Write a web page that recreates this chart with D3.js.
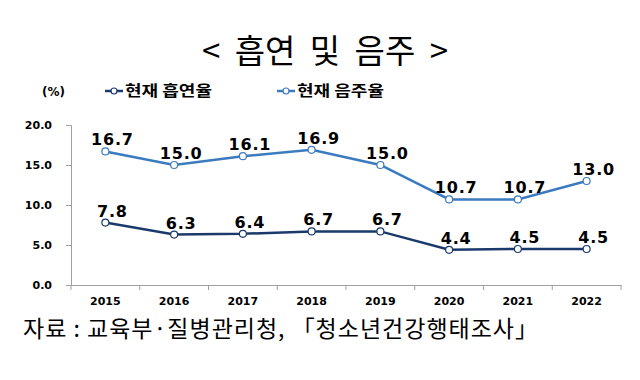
<!DOCTYPE html>
<html><head><meta charset="utf-8">
<script src="https://cdn.jsdelivr.net/npm/d3@7"></script>
<style>body{margin:0;background:#fff}svg{display:block}</style>
</head><body>
<script>
const years = ["2015","2016","2017","2018","2019","2020","2021","2022"];
const smoking = [7.8, 6.3, 6.4, 6.7, 6.7, 4.4, 4.5, 4.5];
const drinking = [16.7, 15.0, 16.1, 16.9, 15.0, 10.7, 10.7, 13.0];
const yTicks = [0, 5, 10, 15, 20];
const seriesNames = ["현재 흡연율", "현재 음주율"];
const seriesColors = ["#1B3A6B", "#3B7BBF"];
const titleText = "< 흡연 및 음주 >";
const unitText = "(%)";
const sourceText = "자료 : 교육부·질병관리청, 「청소년건강행태조사」";

const W = 640, H = 380;
const svg = d3.select("body").append("svg").attr("width", W).attr("height", H);
const krFont = "'Noto Sans CJK KR', 'Noto Sans', sans-serif";
const numFont = "'DejaVu Sans', Verdana, sans-serif";

const x = d3.scaleBand().domain(years).range([71, 621]);
const y = d3.scaleLinear().domain([0, 20]).range([285, 125]);

// title
svg.append("text").attr("x", 325).attr("y", 63).attr("text-anchor", "middle")
  .attr("font-family", krFont).attr("font-size", 33).attr("fill", "#000")
  .attr("word-spacing", 7).text(titleText);

// unit
svg.append("text").attr("x", 42).attr("y", 96).attr("font-family", numFont)
  .attr("font-weight", "bold").attr("font-size", 12).attr("fill", "#000").text(unitText);

// legend
const legX = [105, 277];
seriesNames.forEach((n, i) => {
  const g = svg.append("g");
  g.append("line").attr("x1", legX[i]).attr("x2", legX[i] + 18).attr("y1", 91).attr("y2", 91)
    .attr("stroke", seriesColors[i]).attr("stroke-width", 2.5);
  g.append("circle").attr("cx", legX[i] + 9).attr("cy", 91).attr("r", 3)
    .attr("fill", "#fff").attr("stroke", seriesColors[i]).attr("stroke-width", 1.2);
  g.append("text").attr("x", legX[i] + 20).attr("y", 96).attr("font-family", krFont)
    .attr("font-weight", "bold").attr("font-size", 15).attr("fill", "#000")
    .attr("textLength", 87).attr("lengthAdjust", "spacingAndGlyphs").text(n);
});

// axes
const yAxis = d3.axisLeft(y).tickValues(yTicks).tickFormat(d3.format(".1f")).tickSize(5).tickPadding(14);
const gy = svg.append("g").attr("transform", "translate(71,0)").call(yAxis);
gy.select(".domain").attr("stroke", "#A0A0A0");
gy.selectAll(".tick line").attr("stroke", "#A0A0A0");
gy.selectAll(".tick text").attr("font-family", numFont).attr("font-weight", "bold")
  .attr("font-size", 11).attr("fill", "#000");

const xAxis = d3.axisBottom(x).tickSize(0).tickPadding(12);
const gx = svg.append("g").attr("transform", "translate(0,285)").call(xAxis);
gx.select(".domain").attr("stroke", "#A0A0A0");
gx.selectAll(".tick text").attr("font-family", numFont).attr("font-weight", "bold")
  .attr("font-size", 11).attr("fill", "#000");
// boundary ticks
const bounds = years.map(d => x(d)).concat([x.range()[1]]);
gx.selectAll("line.bt").data(bounds).enter().append("line").attr("class", "bt")
  .attr("x1", d => d).attr("x2", d => d).attr("y1", 0).attr("y2", 5).attr("stroke", "#A0A0A0");

// series
const cx = d => x(d) + x.bandwidth() / 2;
[smoking, drinking].forEach((vals, i) => {
  const pts = years.map((yr, j) => [cx(yr), y(vals[j])]);
  svg.append("path").attr("d", d3.line()(pts)).attr("fill", "none")
    .attr("stroke", seriesColors[i]).attr("stroke-width", 2.5);
  svg.selectAll(null).data(pts).enter().append("circle")
    .attr("cx", d => d[0]).attr("cy", d => d[1]).attr("r", 3.5)
    .attr("fill", "#fff").attr("stroke", seriesColors[i]).attr("stroke-width", 1.2);
  svg.selectAll(null).data(vals).enter().append("text")
    .attr("x", (d, j) => cx(years[j]) + 7).attr("y", d => y(d) - 6)
    .attr("text-anchor", "middle").attr("font-family", numFont).attr("font-weight", "bold")
    .attr("font-size", 16).attr("letter-spacing", 0.8).attr("fill", "#000")
    .text(d => d.toFixed(1));
});

// source
svg.append("text").attr("x", 23).attr("y", 337).attr("font-family", krFont)
  .attr("font-size", 23).attr("fill", "#000")
  .attr("textLength", 515).attr("lengthAdjust", "spacing").text(sourceText);
</script>
</body></html>
